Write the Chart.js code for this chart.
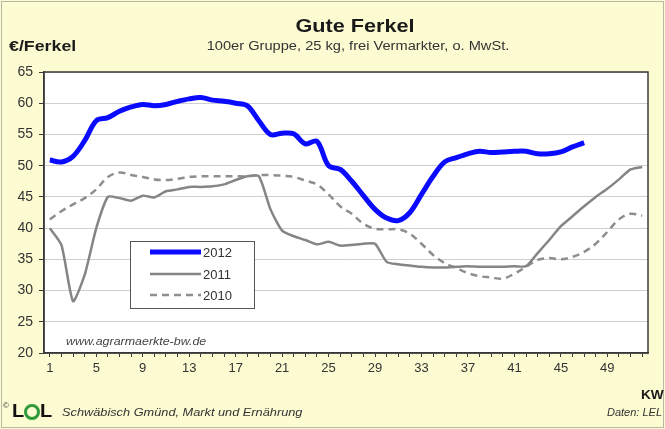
<!DOCTYPE html>
<html lang="de">
<head>
<meta charset="utf-8">
<title>Gute Ferkel</title>
<script src="https://cdn.jsdelivr.net/npm/chart.js@4.4.1/dist/chart.umd.min.js"></script>
<style>
  html, body { margin: 0; padding: 0; background: #fcfbd3; }
  #wrap { width: 665px; height: 429px; }
</style>
</head>
<body>
<div id="wrap"><canvas id="chart" width="665" height="429"></canvas></div>
<script>
// --- DATA ---
const weeks = ["1","2","3","4","5","6","7","8","9","10","11","12","13","14","15","16","17","18","19","20",
  "21","22","23","24","25","26","27","28","29","30","31","32","33","34","35","36","37","38","39","40",
  "41","42","43","44","45","46","47","48","49","50","51","52"];
const weekTickLabels = ["1","5","9","13","17","21","25","29","33","37","41","45","49"];
const yTicks = [20, 25, 30, 35, 40, 45, 50, 55, 60, 65];

const prices2012 = [50.9, 50.6, 51.5, 54.0, 57.2, 57.7, 58.7, 59.4, 59.8, 59.6,
  59.8, 60.3, 60.7, 60.9, 60.5, 60.3, 60.0, 59.6, 57.2, 55.0,
  55.2, 55.1, 53.5, 53.9, 50.0, 49.4, 47.5, 45.2, 43.0, 41.6,
  41.2, 42.5, 45.4, 48.3, 50.6, 51.3, 51.9, 52.3, 52.1, 52.2,
  52.3, 52.3, 51.9, 51.9, 52.2, 53.0, 53.7];
const prices2011 = [40.0, 37.3, 28.3, 32.5, 40.0, 45.0, 44.8, 44.4, 45.2, 44.9,
  45.9, 46.2, 46.6, 46.6, 46.7, 47.0, 47.7, 48.3, 48.3, 43.0,
  39.6, 38.7, 38.1, 37.4, 37.8, 37.2, 37.3, 37.5, 37.5, 34.6,
  34.2, 34.0, 33.8, 33.7, 33.7, 33.8, 33.9, 33.8, 33.8, 33.8,
  33.9, 33.9, 36.0, 38.1, 40.3, 41.9, 43.5, 45.0, 46.3, 47.8,
  49.4, 49.8];
const prices2010 = [41.4, 42.7, 43.8, 44.8, 46.2, 48.2, 48.9, 48.5, 48.2, 47.8,
  47.7, 47.9, 48.2, 48.3, 48.3, 48.3, 48.3, 48.3, 48.5, 48.5,
  48.4, 48.2, 47.6, 47.0, 45.4, 43.5, 42.3, 40.7, 39.9, 39.8,
  39.8, 39.1, 37.5, 35.7, 34.4, 33.6, 32.8, 32.3, 32.1, 31.9,
  32.7, 33.8, 34.9, 35.2, 35.0, 35.4, 36.2, 37.5, 39.4, 41.4,
  42.3, 42.0];

const FONT = "'Liberation Sans', Arial, sans-serif";

// the source picture is a bit wider than tall, so texts get a horizontal stretch
function wideText(ctx, text, x, y, font, sx, align) {
  ctx.save();
  ctx.font = font;
  ctx.textAlign = align || "left";
  ctx.translate(x, y);
  ctx.scale(sx, 1);
  ctx.fillText(text, 0, 0);
  ctx.restore();
}

// --- DECORATION: background, frame, texts, legend box ---
const decorPlugin = {
  id: "decor",
  beforeDraw(chart) {
    const { ctx, chartArea: a, width, height } = chart;
    ctx.save();
    ctx.fillStyle = "#fcfbd1";
    ctx.fillRect(0, 0, width, height);
    ctx.strokeStyle = "#b8b8a8";
    ctx.lineWidth = 1;
    ctx.strokeRect(1.5, 1.5, width - 3, height - 3);
    ctx.fillStyle = "#ffffff";
    ctx.fillRect(a.left, a.top, a.right - a.left, a.bottom - a.top);
    ctx.restore();
  },
  afterDraw(chart) {
    const { ctx, chartArea: a } = chart;
    ctx.save();
    // plot frame
    ctx.strokeStyle = "#3a3a3a";
    ctx.lineWidth = 1.5;
    ctx.strokeRect(a.left, a.top, a.right - a.left, a.bottom - a.top);

    // titles
    ctx.textBaseline = "middle";
    ctx.fillStyle = "#1a1a1a";
    wideText(ctx, "Gute Ferkel", 355, 27, "bold 19px " + FONT, 1.14, "center");
    ctx.fillStyle = "#333";
    wideText(ctx, "100er Gruppe, 25 kg, frei Vermarkter, o. MwSt.", 358, 47, "12px " + FONT, 1.22, "center");

    ctx.fillStyle = "#1a1a1a";
    wideText(ctx, "€/Ferkel", 9, 47, "bold 14px " + FONT, 1.27);
    wideText(ctx, "KW", 641, 395, "bold 13px " + FONT, 1.05);

    // watermark inside plot
    ctx.fillStyle = "#444";
    wideText(ctx, "www.agrarmaerkte-bw.de", 66, 342, "italic 11px " + FONT, 1.13);

    // footer
    ctx.fillStyle = "#333";
    wideText(ctx, "©", 3, 406, "8px " + FONT, 1);
    ctx.fillStyle = "#111";
    wideText(ctx, "L", 12, 412, "bold 19px " + FONT, 1.05);
    ctx.beginPath();
    ctx.arc(32, 412, 6.5, 0, Math.PI * 2);
    ctx.lineWidth = 3;
    ctx.strokeStyle = "#2f9a3a";
    ctx.stroke();
    wideText(ctx, "L", 40, 412, "bold 19px " + FONT, 1.05);
    ctx.fillStyle = "#333";
    wideText(ctx, "Schwäbisch Gmünd, Markt und Ernährung", 62, 413, "italic 11px " + FONT, 1.16);
    wideText(ctx, "Daten: LEL", 607, 413, "italic 11px " + FONT, 1);

    // legend box
    const box = { x: 130, y: 241, w: 124, h: 67 };
    ctx.fillStyle = "#ffffff";
    ctx.fillRect(box.x, box.y, box.w, box.h);
    ctx.strokeStyle = "#555";
    ctx.lineWidth = 1;
    ctx.strokeRect(box.x + 0.5, box.y + 0.5, box.w, box.h);
    const rows = [252, 274, 295];
    chart.data.datasets.forEach((ds, i) => {
      const y = rows[i];
      ctx.beginPath();
      ctx.setLineDash(ds.borderDash || []);
      ctx.strokeStyle = ds.borderColor;
      ctx.lineWidth = ds.borderWidth;
      ctx.moveTo(150, y);
      ctx.lineTo(201, y);
      ctx.stroke();
      ctx.setLineDash([]);
      ctx.fillStyle = "#333";
      wideText(ctx, ds.label, 203, y + 1, "13px " + FONT, 1);
    });
    ctx.restore();
  },
};

new Chart(document.getElementById("chart"), {
  type: "line",
  data: {
    labels: weeks,
    datasets: [
      {
        label: "2012",
        data: prices2012,
        borderColor: "#0a0aff",
        borderWidth: 5,
        tension: 0.35,
        pointRadius: 0,
      },
      {
        label: "2011",
        data: prices2011,
        borderColor: "#858585",
        borderWidth: 2.5,
        tension: 0.2,
        pointRadius: 0,
      },
      {
        label: "2010",
        data: prices2010,
        borderColor: "#8e8e8e",
        borderWidth: 2.5,
        borderDash: [7, 5],
        tension: 0.35,
        pointRadius: 0,
      },
    ],
  },
  options: {
    responsive: false,
    animation: false,
    devicePixelRatio: 1,
    layout: { padding: { top: 72, right: 17, left: 0, bottom: 0 } },
    plugins: {
      legend: { display: false },
      tooltip: { enabled: false },
    },
    scales: {
      x: {
        offset: true,
        afterFit: (s) => { s.height = 76; },
        grid: {
          drawOnChartArea: false,
          drawTicks: true,
          tickLength: 4,
          color: "#3a3a3a",
        },
        border: { color: "#3a3a3a", width: 1.5 },
        ticks: {
          autoSkip: false,
          maxRotation: 0,
          padding: 4,
          color: "#333",
          font: { family: FONT, size: 13 },
          callback: function (value, index) {
            const lbl = this.getLabelForValue(value);
            return weekTickLabels.includes(lbl) ? lbl : "";
          },
        },
      },
      y: {
        min: yTicks[0],
        max: yTicks[yTicks.length - 1],
        afterFit: (s) => { s.width = 44; },
        afterBuildTicks: (s) => { s.ticks = yTicks.map((v) => ({ value: v })); },
        grid: {
          color: "#cfcfcf",
          tickColor: "#3a3a3a",
          tickLength: 5,
          lineWidth: 1,
        },
        border: { color: "#3a3a3a", width: 1.5 },
        ticks: {
          padding: 6,
          color: "#333",
          font: { family: FONT, size: 14 },
        },
      },
    },
  },
  plugins: [decorPlugin],
});
</script>
</body>
</html>
